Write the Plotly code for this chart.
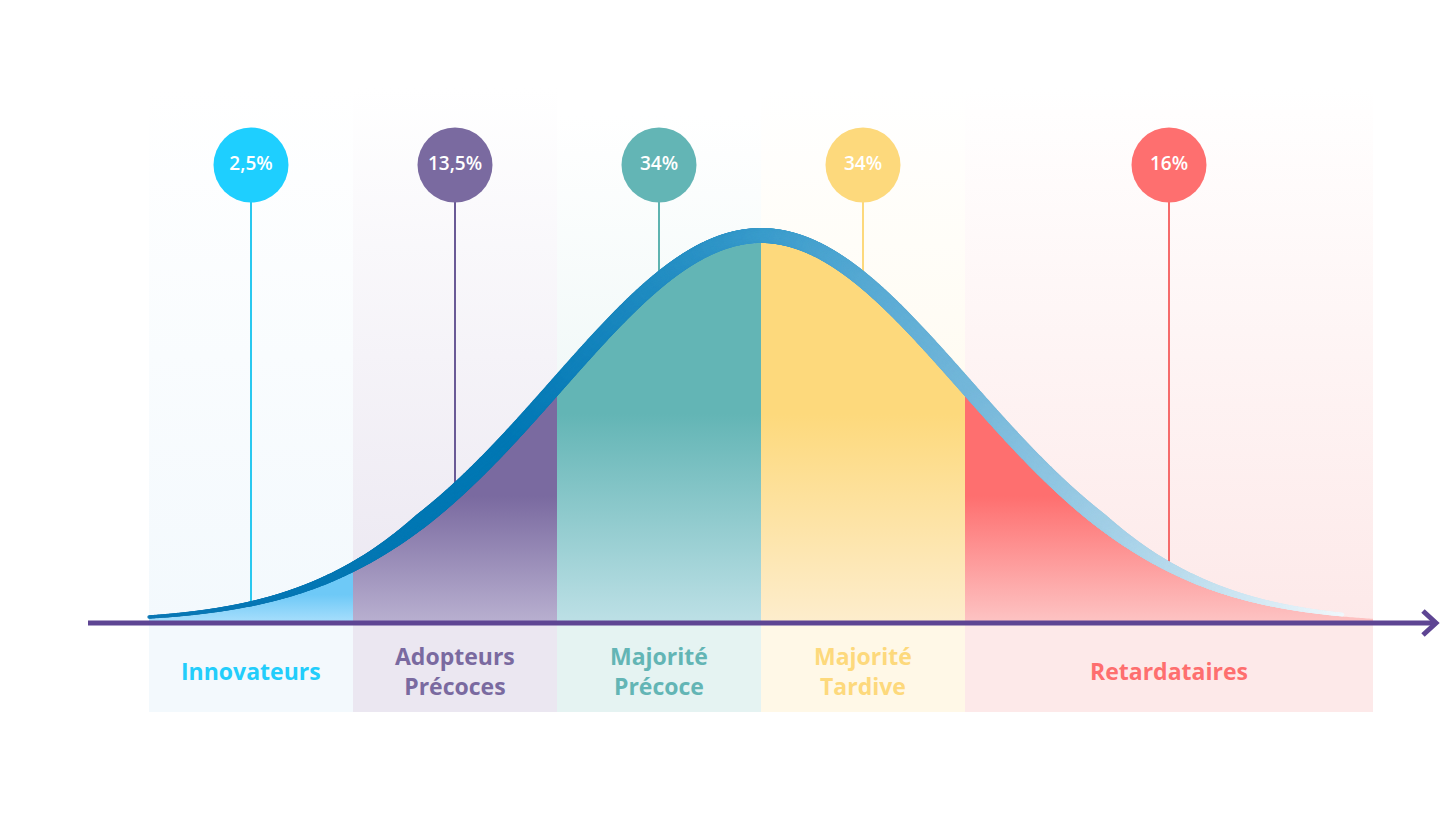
import numpy as np
import plotly.graph_objects as go

# Adoption segments (boundaries in standard deviations from the mean)
categories = ["Innovateurs", "Adopteurs<br>Précoces", "Majorité<br>Précoce", "Majorité<br>Tardive", "Retardataires"]
shares = ["2,5%", "13,5%", "34%", "34%", "16%"]
bounds_sd = [-3, -2, -1, 0, 1, 3]
bubble_sd = [-2.5, -1.5, -0.5, 0.5, 2.0]
bubble_col = ["#1ecfff", "#7a6aa0", "#63b5b5", "#fdd97c", "#fe6f6f"]
line_col = ["#2ac8ef", "#6a5a96", "#5eb3b0", "#fdd97c", "#f56b6b"]
fill_top = ["#6ec9f7", "#7a6aa0", "#63b5b5", "#fdd97c", "#fe6f6f"]
fill_bot = ["#a9dffc", "#b9b0d0", "#bde0e6", "#fdedcd", "#fdc4c4"]
tint = ["#f3f9fd", "#ebe7f1", "#e5f3f2", "#fff8e7", "#fde9e9"]

# pixel geometry
MU, SD, BASE, PEAK = 761, 204, 193, 380
panel_right = 1373
px = lambda s: MU + s * SD

def curve(x):
    return BASE + PEAK * np.exp(-0.5 * ((x - MU) / SD) ** 2)

fig = go.Figure()

# background columns
for i in range(5):
    x0 = px(bounds_sd[i])
    x1 = panel_right if i == 4 else px(bounds_sd[i + 1])
    top = 816 - (115 if i == 2 else 88)
    fig.add_trace(go.Scatter(x=[x0, x1, x1, x0, x0], y=[BASE, BASE, top, top, BASE], fill="toself",
                             mode="none", hoverinfo="skip",
                             fillgradient=dict(type="vertical", colorscale=[[0, tint[i]], [1, "#ffffff"]])))
    fig.add_trace(go.Scatter(x=[x0, x1, x1, x0, x0], y=[104, 104, BASE, BASE, 104], fill="toself",
                             fillcolor=tint[i], mode="none", hoverinfo="skip"))

# stems
for i in range(5):
    bx = px(bubble_sd[i])
    fig.add_trace(go.Scatter(x=[bx, bx], y=[816 - 165, curve(bx)], mode="lines",
                             line=dict(color=line_col[i], width=2), hoverinfo="skip"))

# area fills
for i in range(5):
    xs = np.linspace(px(bounds_sd[i]), px(bounds_sd[i + 1]), 200)
    ys = curve(xs)
    fig.add_trace(go.Scatter(x=np.concatenate([xs, [xs[-1], xs[0]]]), y=np.concatenate([ys, [BASE, BASE]]),
                             fill="toself", mode="none", hoverinfo="skip",
                             fillgradient=dict(type="vertical", colorscale=[[0, fill_bot[i]], [0.55, fill_top[i]], [1, fill_top[i]]])))

# thick curve stroke with gradient, tapering at both ends
xs = np.linspace(px(-3), px(2.85), 2500)
rel = (curve(xs) - BASE) / PEAK
width = 3 + 12 * np.clip(rel * 4, 0, 1)
fig.add_trace(go.Scatter(x=xs, y=curve(xs) + width / 2, mode="markers", hoverinfo="skip",
                         marker=dict(size=width, color=xs, cmin=xs[0], cmax=xs[-1], line=dict(width=0),
                                     colorscale=[[0, "#0a78b5"], [0.3, "#0077b4"], [0.52, "#3a9ccc"],
                                                 [0.7, "#78b9db"], [0.9, "#c8e3f1"], [1, "#f0f8fc"]])))

# bubbles
bx = [px(s) for s in bubble_sd]
fig.add_trace(go.Scatter(x=bx, y=[816 - 165] * 5, mode="markers+text", text=shares,
                         marker=dict(size=75, color=bubble_col), textposition="middle center",
                         textfont=dict(family="Open Sans", size=19, color="white", weight=600), hoverinfo="skip"))

# axis arrow
fig.add_shape(type="line", x0=88, x1=1434, y0=BASE, y1=BASE, line=dict(color="#5e4593", width=5))
fig.add_shape(type="path", path=f"M 1423 {BASE+12} L 1436 {BASE} L 1423 {BASE-12}",
              line=dict(color="#5e4593", width=5))
fig.add_annotation(x=3, y=BASE + 2, text="<b>Time</b>", showarrow=False, xanchor="left",
                   font=dict(family="Open Sans", size=22, color="#5b3f8f"))

# category labels
for i in range(5):
    x0 = px(bounds_sd[i])
    x1 = panel_right if i == 4 else px(bounds_sd[i + 1])
    fig.add_annotation(x=(x0 + x1) / 2, y=816 - 671, text=f"<b>{categories[i]}</b>", showarrow=False,
                       font=dict(family="Open Sans", size=23, color=bubble_col[i] if i != 0 else "#22cdfb"))

# page body adds an 8px offset; shift ranges so marks land on the reference pixels
fig.update_layout(width=1452, height=816, margin=dict(l=0, r=0, t=0, b=0), showlegend=False,
                  plot_bgcolor="white", paper_bgcolor="white",
                  xaxis=dict(range=[8, 1460], visible=False),
                  yaxis=dict(range=[-8, 808], visible=False))
fig.write_html("out.html")
